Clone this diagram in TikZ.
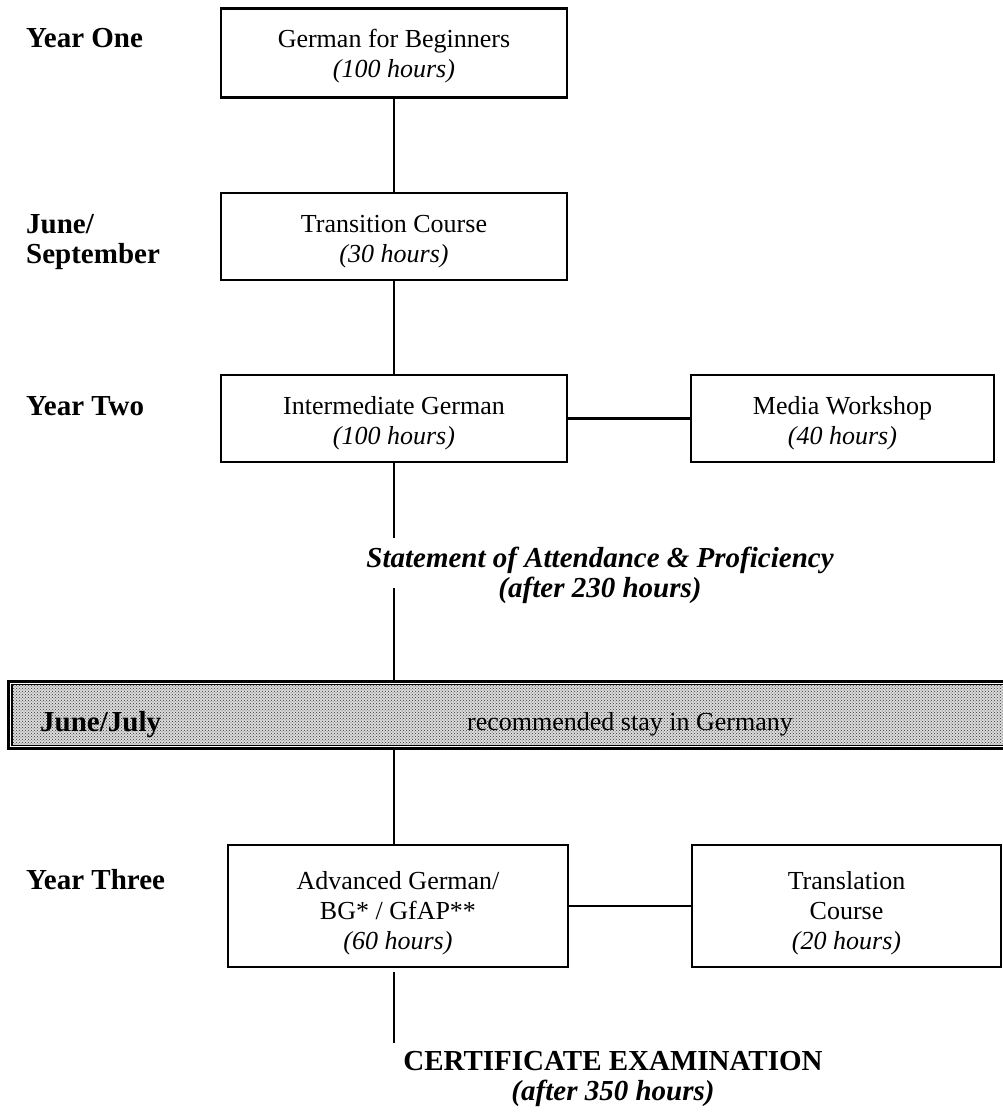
\documentclass[tikz,border=0pt]{standalone}
\usepackage{fontspec}
\setmainfont{Liberation Serif}
\usetikzlibrary{patterns}
\newcommand\boxfont{\fontsize{26}{30}\selectfont}
\newcommand\labfont{\fontsize{29}{30}\selectfont\bfseries}
\newcommand\upA{\rule{0pt}{27.6pt}}
\newcommand\upB{\rule{0pt}{24.6pt}}
\newcommand\upC{\rule{0pt}{32.6pt}}
\begin{document}
\begin{tikzpicture}[x=1pt,y=-1pt,
  coursebox/.style={draw, line width=2.6pt, inner sep=0pt, align=center, font=\boxfont},
  conn/.style={line width=2.6pt},
  yearlabel/.style={anchor=base west, inner sep=0pt, align=left, font=\labfont},
  milestone/.style={anchor=base, inner sep=0pt, align=center, font=\labfont\itshape},
  bandouter/.style={draw, line width=3pt, inner sep=0pt},
  bandinner/.style={line width=1.8pt}
]
\useasboundingbox (0,0) rectangle (1003,1113);
\fill[white] (0,0) rectangle (1003,1113);
\clip (0,0) rectangle (1003,1113);

% year labels (base anchor = baseline of the last line)
\node[yearlabel] (l1) at (26,48) {Year One};
\node[yearlabel] (l2) at (26,263) {June/\\September};
\node[yearlabel] (l3) at (26,415) {Year Two};
\node[yearlabel] (l5) at (26,889) {Year Three};

% course boxes
\node[coursebox, minimum width=346, minimum height=89] (b1) at (394,53)
  {\upB German for Beginners\\\textit{(100 hours)}};
\node[coursebox, minimum width=346, minimum height=87] (b2) at (394,236.5)
  {\upA Transition Course\\\textit{(30 hours)}};
\node[coursebox, minimum width=346, minimum height=87] (b3) at (394,418.5)
  {\upA Intermediate German\\\textit{(100 hours)}};
\node[coursebox, minimum width=303, minimum height=87] (b4) at (842.5,418.5)
  {\upA Media Workshop\\\textit{(40 hours)}};
\node[coursebox, minimum width=340, minimum height=122] (b5) at (398,906)
  {\upC Advanced German/\\BG* / GfAP**\\\textit{(60 hours)}};
\node[coursebox, minimum width=309, minimum height=122] (b6) at (846.5,906)
  {\upC Translation\\Course\\\textit{(20 hours)}};

% statement
\node[milestone] (st) at (600,597)
  {Statement of Attendance \& Proficiency\\(after 230 hours)};

% band
\node[bandouter, minimum width=1006, minimum height=67] (band) at (511,715) {};
\fill[black!14] ([shift={(5.5,4.5)}]band.north west) rectangle ([shift={(-5.5,-4.5)}]band.south east);
\fill[pattern=crosshatch dots, pattern color=black!80] ([shift={(5.5,4.5)}]band.north west) rectangle ([shift={(-5.5,-4.5)}]band.south east);
\draw[bandinner] ([shift={(5.5,4.5)}]band.north west) rectangle ([shift={(-5.5,-4.5)}]band.south east);
\node[anchor=base west, inner sep=0pt, font=\labfont] (bj) at (40,731) {June/July};
\node[anchor=base, inner sep=0pt, font=\boxfont] (bs) at (630,730) {recommended stay in Germany};

% certificate
\node[anchor=base, inner sep=0pt, align=center, font=\labfont] (cert) at (613,1100)
  {CERTIFICATE EXAMINATION\\\textit{(after 350 hours)}};

% connectors
\coordinate (s1) at (394,538);
\coordinate (s2) at (394,588);
\coordinate (e1) at (394,972);
\coordinate (e2) at (394,1043);
\draw[conn] (b1.south) -- (b2.north);
\draw[conn] (b2.south) -- (b3.north);
\draw[conn] (b3.south) -- (s1);
\draw[conn] (s2) -- (band.north -| s2);
\draw[conn] (band.south -| s2) -- (b5.north -| s2);
\draw[conn] (e1) -- (e2);
\draw[conn] (b3.east) -- (b4.west);
\draw[conn] (b5.east) -- (b6.west);
\end{tikzpicture}
\end{document}
